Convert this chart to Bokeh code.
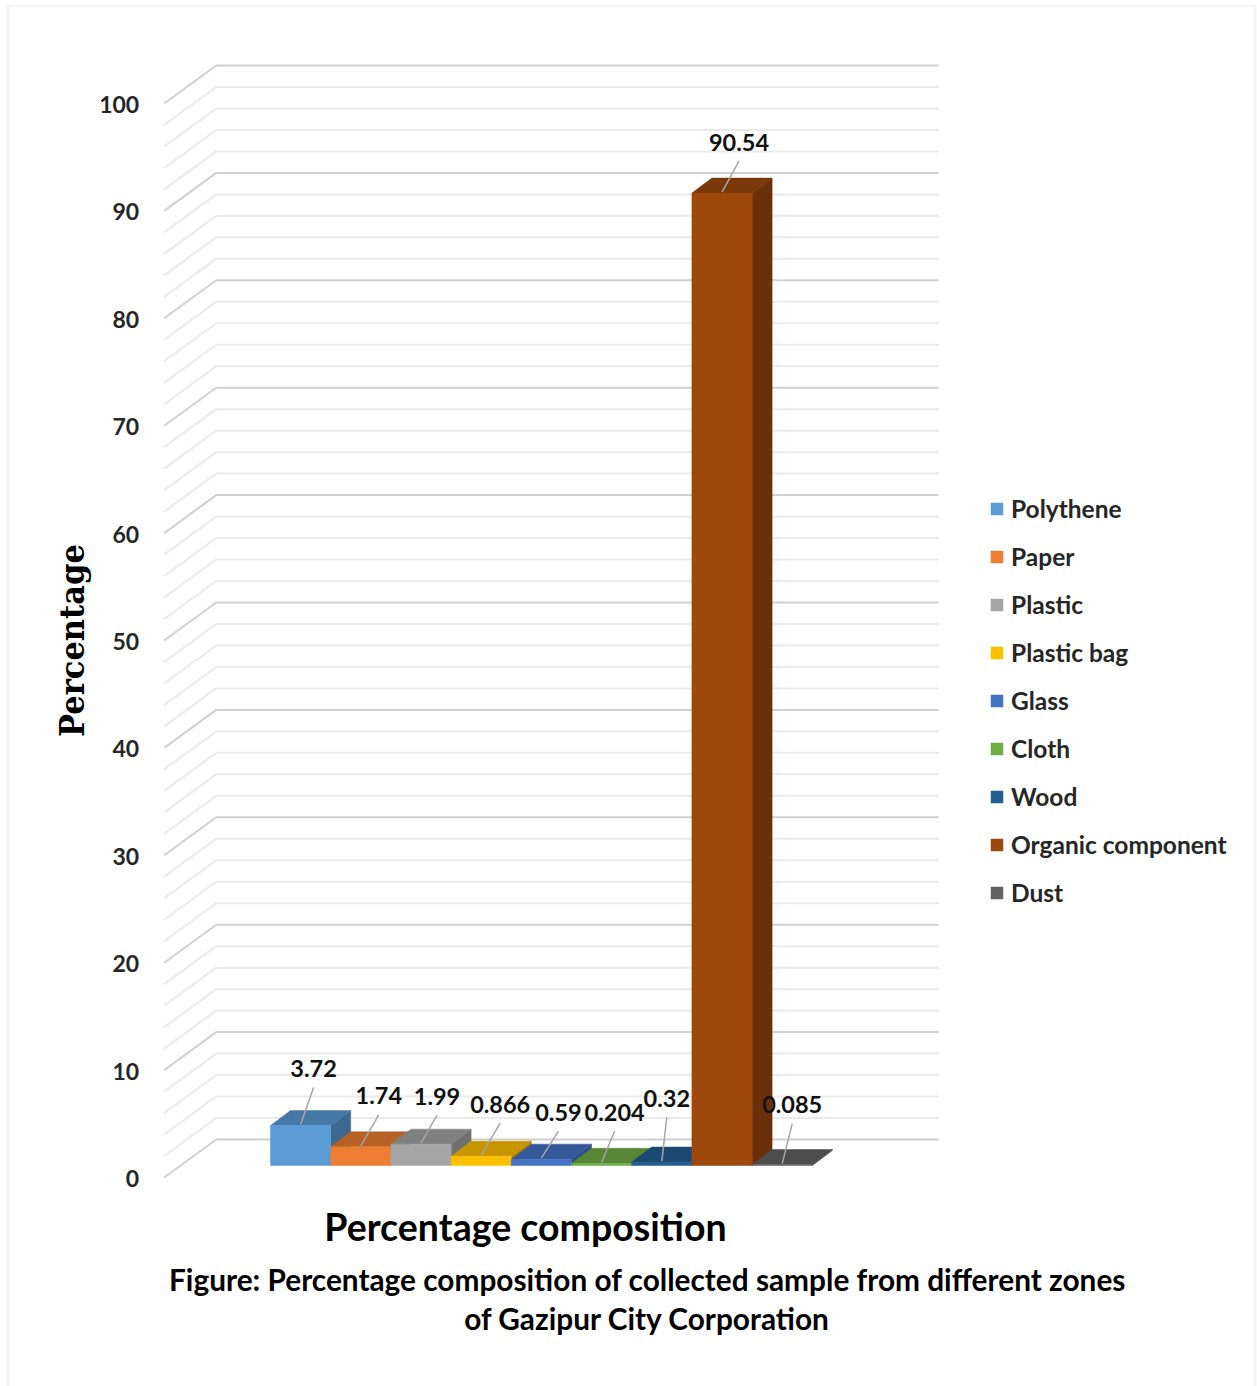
import math
from bokeh.plotting import figure
from bokeh.models import Range1d, Legend, LegendItem, BoxAnnotation
from bokeh.core.properties import value
from bokeh.embed import file_html
from bokeh.resources import INLINE

# ---- data -------------------------------------------------------------
categories = ["Polythene", "Paper", "Plastic", "Plastic bag", "Glass",
              "Cloth", "Wood", "Organic component", "Dust"]
percentages = [3.72, 1.74, 1.99, 0.866, 0.59, 0.204, 0.32, 90.54, 0.085]
colors = ["#5B9BD5", "#ED7D31", "#A5A5A5", "#FFC000", "#4472C4",
          "#70AD47", "#255E91", "#9E480E", "#636363"]
y_ticks = list(range(0, 101, 10))
grid_levels = list(range(0, 101, 2))

# data-label placement (screen px, right / down) relative to the top of each column
label_shift = [(13, -57), (18, -51), (16, -48), (19, -52), (17, -47),
               (13, -51), (5, -64), (17, -51), (10, -60)]

# ---- page geometry ------------------------------------------------------
W, H = 1257, 1386
PX_SLOT = 60.2      # px per column slot
PX_PCT = 10.74      # px per percentage point
ORIGIN_X = 270      # left edge of the first column front
ORIGIN_Y = 1165     # zero level of the column fronts


def sx(px):
    return (px - ORIGIN_X) / PX_SLOT


def sy(px):
    return (ORIGIN_Y - px) / PX_PCT


def ddx(px):
    return px / PX_SLOT


def ddy(px):
    # px measured upward
    return px / PX_PCT


p = figure(width=W, height=H,
           x_range=Range1d(sx(0), sx(W)), y_range=Range1d(sy(H), sy(0)),
           output_backend="svg", toolbar_location=None, min_border=0,
           x_axis_location=None, y_axis_location=None,
           outline_line_color=None, background_fill_color="white",
           border_fill_color="white")
p.grid.grid_line_color = None

# page frame
p.add_layout(BoxAnnotation(left=sx(7.5), right=sx(1254.5), top=sy(5.5), bottom=sy(1420),
                           fill_alpha=0, line_color="#d9d9d9", line_width=3))

# ---- 3-D walls --------------------------------------------------------
WALL_L, WALL_R = -1.5, 10.5
BACK_DX, BACK_DY = ddx(36), ddy(26)
FRONT_DX, FRONT_DY = ddx(-16), ddy(-12)

for major in (False, True):
    lv = [g for g in grid_levels if (g % 10 == 0) == major]
    col = "#d0d0d0" if major else "#eaeaea"
    # back wall
    p.segment(x0=[WALL_L + BACK_DX] * len(lv), y0=[g + BACK_DY for g in lv],
              x1=[WALL_R + BACK_DX] * len(lv), y1=[g + BACK_DY for g in lv],
              line_color=col, line_width=2)
    # side wall
    p.segment(x0=[WALL_L + FRONT_DX] * len(lv), y0=[g + FRONT_DY for g in lv],
              x1=[WALL_L + BACK_DX] * len(lv), y1=[g + BACK_DY for g in lv],
              line_color=col, line_width=2)

# tick labels along the front edge of the side wall
p.text(x=[WALL_L + FRONT_DX] * len(y_ticks), y=[t + FRONT_DY for t in y_ticks],
       text=[str(t) for t in y_ticks], x_offset=-25, y_offset=1,
       text_align="right", text_baseline="middle",
       text_font=value("Lato"), text_font_style="bold", text_font_size="23px",
       text_color="#262626")


# ---- 3-D columns ------------------------------------------------------
def shade(hexcol, k):
    r, g, b = (int(hexcol[i:i + 2], 16) for i in (1, 3, 5))
    return "#%02x%02x%02x" % (int(r * k), int(g * k), int(b * k))


COL_DX, COL_DY = ddx(20), ddy(15)
n = len(categories)
idx = list(range(n))

side_xs = [[i + 1, i + 1 + COL_DX, i + 1 + COL_DX, i + 1] for i in idx]
side_ys = [[0, COL_DY, v + COL_DY, v] for v in percentages]
p.patches(xs=side_xs, ys=side_ys, fill_color=[shade(c, 0.68) for c in colors],
          line_color=[shade(c, 0.68) for c in colors], line_width=0.5)

top_xs = [[i, i + 1, i + 1 + COL_DX, i + COL_DX] for i in idx]
top_ys = [[v, v, v + COL_DY, v + COL_DY] for v in percentages]
p.patches(xs=top_xs, ys=top_ys, fill_color=[shade(c, 0.78) for c in colors],
          line_color=[shade(c, 0.78) for c in colors], line_width=0.5)

fronts = p.quad(left=idx, right=[i + 1 for i in idx], bottom=[0] * n, top=percentages,
                fill_color=colors, line_color=colors, line_width=0.5)

# ---- data labels with leader lines -----------------------------------
lab_x = [i + 0.5 + ddx(s[0]) for i, s in zip(idx, label_shift)]
lab_y = [v + ddy(-s[1]) for v, s in zip(percentages, label_shift)]
p.segment(x0=[i + 0.5 for i in idx], y0=[v + ddy(1) for v in percentages],
          x1=lab_x, y1=[y - ddy(19) for y in lab_y],
          line_color="#a6a6a6", line_width=1.5)
p.text(x=lab_x, y=lab_y, text=[f"{v:g}" for v in percentages],
       text_align="center", text_baseline="middle",
       text_font=value("Lato"), text_font_style="bold", text_font_size="23.5px",
       text_color="#111111")

# ---- legend -------------------------------------------------------------
legend = Legend(items=[LegendItem(label=c, renderers=[fronts], index=i)
                       for i, c in enumerate(categories)],
                location=(989, 479), orientation="vertical",
                label_text_font="Lato", label_text_font_style="bold",
                label_text_font_size="24.5px", label_text_color="#262626",
                glyph_width=15, glyph_height=15, label_standoff=7,
                label_height=30, spacing=18, padding=0, margin=0,
                border_line_color=None, background_fill_alpha=0)
p.add_layout(legend)

# ---- titles ---------------------------------------------------------------
p.text(x=[sx(71)], y=[sy(640)], text=["Percentage"], angle=math.pi / 2,
       text_align="center", text_baseline="middle",
       text_font=value("DejaVu Serif Condensed"), text_font_style="bold",
       text_font_size="34px", text_color="#000000")
p.text(x=[sx(525)], y=[sy(1226)], text=["Percentage composition"],
       text_align="center", text_baseline="middle",
       text_font=value("Lato"), text_font_style="bold", text_font_size="37.5px",
       text_color="#000000")
p.text(x=[sx(647), sx(647)], y=[sy(1279), sy(1318)],
       text=["Figure: Percentage composition of collected sample from different zones",
             "of Gazipur City Corporation"],
       text_align="center", text_baseline="middle",
       text_font=value("Lato"), text_font_style="bold", text_font_size="29.8px",
       text_color="#000000")

open("out.html", "w").write(file_html(p, INLINE))
